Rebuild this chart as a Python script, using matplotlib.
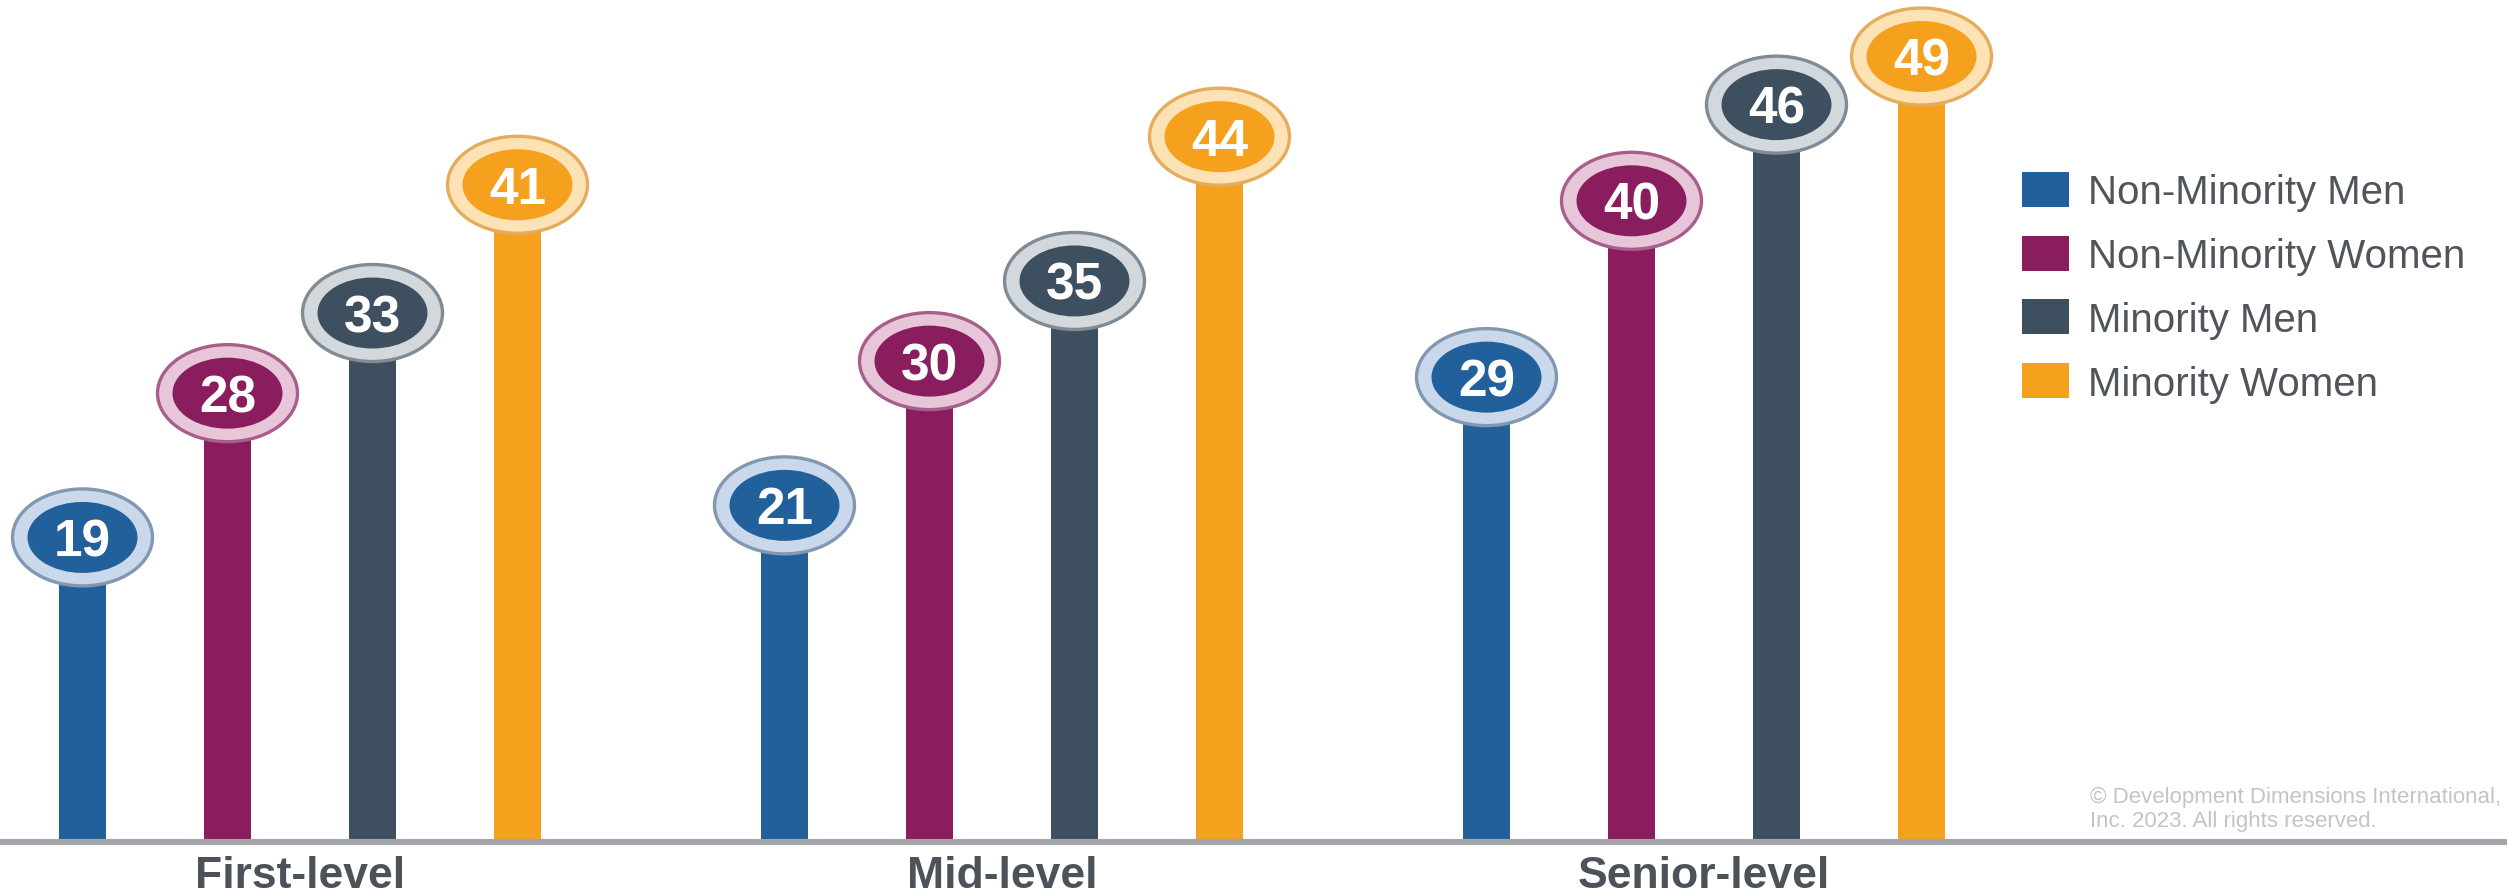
import matplotlib
matplotlib.use("Agg")
import matplotlib.pyplot as plt
from matplotlib.patches import Ellipse, Rectangle
import numpy as np

# ---- data ----
levels = ["First-level", "Mid-level", "Senior-level"]
series = ["Non-Minority Men", "Non-Minority Women", "Minority Men", "Minority Women"]
non_minority_men = [19, 21, 29]
non_minority_women = [28, 30, 40]
minority_men = [33, 35, 46]
minority_women = [41, 44, 49]
values = [non_minority_men, non_minority_women, minority_men, minority_women]

# ---- style ----
fill_colors = ["#21609a", "#8a1d5e", "#3e5060", "#f6a11e"]
ring_colors = ["#c9d8ea", "#e8c6da", "#d3d8dc", "#fde2b6"]
edge_colors = ["#8297b0", "#a95d8a", "#818b94", "#e4ac5c"]
text_dark = "#4b5259"

W, H, DPI = 2507, 893, 100
fig = plt.figure(figsize=(W / DPI, H / DPI), dpi=DPI)
ax = fig.add_axes([0, 0, 1, 1])

# layout: pixel geometry of the value scale
x0_px, group_px = 300.0, 702.0        # centre of first group, spacing between groups
y0_px, unit_px = 842.0, 16.03         # baseline (from top), pixels per value unit
ax.set_xlim(-x0_px / group_px, (W - x0_px) / group_px)
ax.set_ylim(-(H - y0_px) / unit_px, y0_px / unit_px)
ax.axis("off")

slot = 145.0 / group_px
bar_w = 47.0 / group_px
outer_w, outer_h = 140.0 / group_px, 97.0 / unit_px
inner_w, inner_h = 110.0 / group_px, 71.0 / unit_px

xg = np.arange(len(levels))
for j, vals in enumerate(values):
    xs = xg + (j - 1.5) * slot
    ax.bar(xs, vals, width=bar_w, color=fill_colors[j], zorder=2)
    for x, v in zip(xs, vals):
        ax.add_patch(Ellipse((x, v), outer_w, outer_h, facecolor=ring_colors[j],
                             edgecolor=edge_colors[j], linewidth=2.4, zorder=3))
        ax.add_patch(Ellipse((x, v), inner_w, inner_h, facecolor=fill_colors[j],
                             edgecolor="none", zorder=4))
        ax.text(x, v, f"{v}", ha="center", va="center_baseline", color="white",
                fontsize=37, fontweight="bold", family="Liberation Sans", zorder=5)

# baseline
ax.axhline(0, color="#a3a6ab", linewidth=4.4, zorder=6)

# category labels
for i, name in enumerate(levels):
    ax.text(i, -(888 - y0_px) / unit_px, name, ha="center", va="baseline",
            fontsize=32, fontweight="bold", color=text_dark, family="Liberation Sans")

# legend
leg_x, leg_y, leg_step = 2022, 189.5, 63.7
for j, name in enumerate(series):
    yc = leg_y + j * leg_step
    fig.patches.append(Rectangle((leg_x / W, 1 - (yc + 17.5) / H), 47 / W, 35 / H,
                                 transform=fig.transFigure, facecolor=fill_colors[j],
                                 edgecolor="none"))
    fig.text(2088 / W, 1 - yc / H, name, ha="left", va="center_baseline",
             fontsize=29, color="#50555b", family="Liberation Sans")

# copyright note
fig.text(2090 / W, 1 - 797 / H, "\u00a9 Development Dimensions International,",
         ha="left", va="center", fontsize=16, color="#c4c4c4", family="Liberation Sans")
fig.text(2090 / W, 1 - 821 / H, "Inc. 2023. All rights reserved.",
         ha="left", va="center", fontsize=16, color="#c4c4c4", family="Liberation Sans")

fig.savefig("out.png", dpi=DPI, facecolor="white")
